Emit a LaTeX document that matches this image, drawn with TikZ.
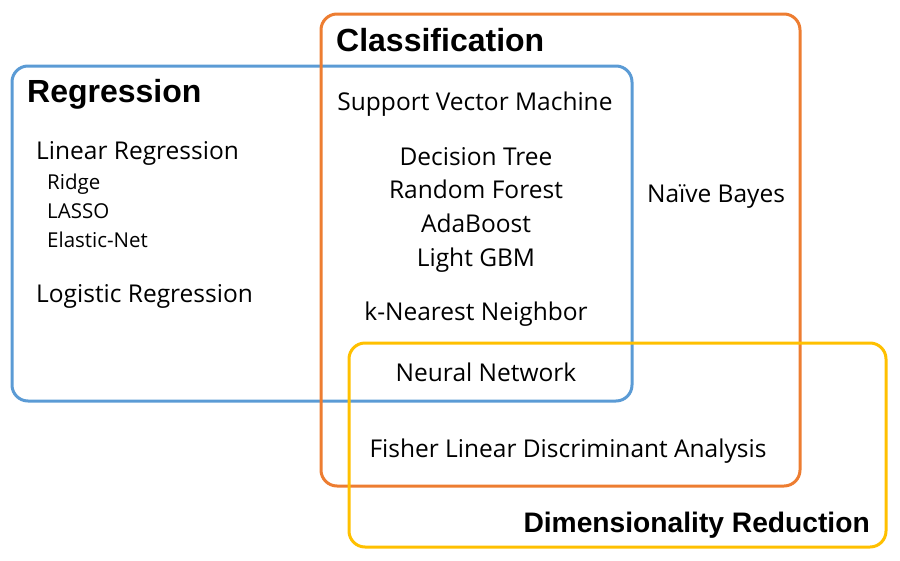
\documentclass[tikz,border=0pt]{standalone}
\usepackage{fontspec}
\setmainfont{Open Sans}
\newfontfamily\headfont{Liberation Sans}
\definecolor{regblue}{HTML}{5B9BD5}
\definecolor{clsorange}{HTML}{ED7D31}
\definecolor{dimyellow}{HTML}{FFC000}
\begin{document}
\begin{tikzpicture}[x=1pt,y=-1pt,
  setbox/.style={line width=3pt,rounded corners=16pt},
  heading/.style={inner sep=0pt,font=\headfont\bfseries\fontsize{32}{36}\selectfont},
  item/.style={inner sep=0pt,font=\fontsize{24.5}{28}\selectfont},
  subitem/.style={inner sep=0pt,font=\fontsize{20.5}{24}\selectfont}]
\useasboundingbox (0,0) rectangle (900,560);
\draw[setbox,regblue] (12,66) rectangle (632,401);
\draw[setbox,clsorange] (321,14) rectangle (800,486);
\draw[setbox,dimyellow] (349,343) rectangle (886,547);
% headings
\node[heading,anchor=base west] (reg) at (27,102) {Regression};
\node[heading,anchor=base west] (cls) at (336,51) {Classification};
\node[heading,anchor=base east,font=\headfont\bfseries\fontsize{28.2}{32}\selectfont] (dim) at (870,532) {Dimensionality Reduction};
% regression items
\node[item,anchor=base west] (lin) at (36,159) {Linear Regression};
\node[subitem,anchor=base west] (ridge) at (47,189) {Ridge};
\node[subitem,anchor=base west] (lasso) at (47,218) {LASSO};
\node[subitem,anchor=base west] (enet) at (47,247) {Elastic-Net};
\node[item,anchor=base west] (logit) at (36,302) {Logistic Regression};
% shared items
\node[item,anchor=base] (svm) at (475,110) {Support Vector Machine};
\node[item,anchor=base] (dt) at (476,165) {Decision Tree};
\node[item,anchor=base] (rf) at (476,198) {Random Forest};
\node[item,anchor=base] (ada) at (476,232) {AdaBoost};
\node[item,anchor=base] (lgbm) at (476,266) {Light GBM};
\node[item,anchor=base] (knn) at (476,320) {k-Nearest Neighbor};
\node[item,anchor=base] (nn) at (486,381) {Neural Network};
\node[item,anchor=base] (nb) at (716,202) {Naïve Bayes};
\node[item,anchor=base] (flda) at (568,457) {Fisher Linear Discriminant Analysis};
\end{tikzpicture}
\end{document}
